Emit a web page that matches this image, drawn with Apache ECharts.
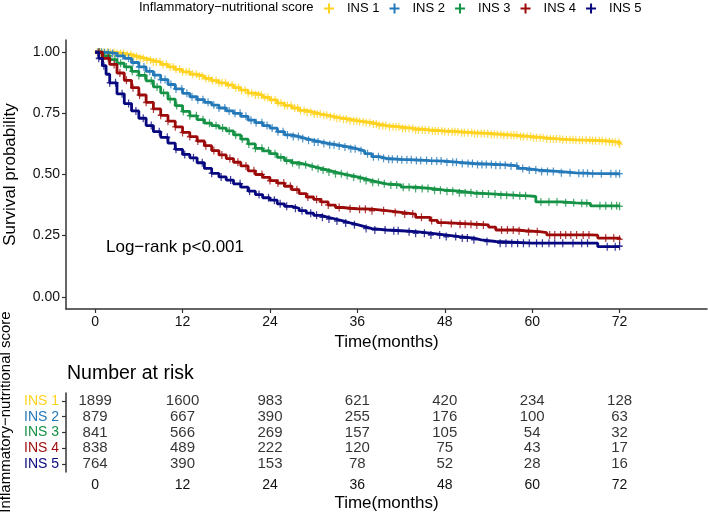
<!DOCTYPE html>
<html>
<head>
<meta charset="utf-8">
<script src="https://cdn.jsdelivr.net/npm/echarts@6/dist/echarts.min.js"></script>
<style>
html, body { margin: 0; padding: 0; background: #fff; }
#main { width: 708px; height: 517px; }
</style>
</head>
<body>
<div id="main"></div>
<script>
// groups + colours
var groups = ['INS 1', 'INS 2', 'INS 3', 'INS 4', 'INS 5'];
var colors = ['#FFD21F', '#2479B9', '#149245', '#9C0A0A', '#07077F'];

// KM step curves (months, survival)
var ins1T = [0, 2, 3, 4, 5, 6, 7, 8, 9, 10, 11, 12, 13, 14, 15, 16, 17, 18, 19, 20, 21, 22, 23, 24, 25, 26, 27, 28, 29, 30, 31, 32, 33, 34, 35, 36, 37, 38, 39, 40, 42, 44, 46, 48, 50, 52, 54, 56, 58, 60, 62, 64, 66, 68, 70, 71, 72];
var ins1S = [1, 0.999, 0.995, 0.99, 0.982, 0.975, 0.967, 0.96, 0.95, 0.94, 0.93, 0.92, 0.91, 0.902, 0.893, 0.884, 0.875, 0.866, 0.855, 0.845, 0.833, 0.825, 0.815, 0.805, 0.792, 0.782, 0.772, 0.762, 0.755, 0.747, 0.742, 0.736, 0.73, 0.726, 0.72, 0.716, 0.712, 0.706, 0.7, 0.695, 0.688, 0.682, 0.678, 0.675, 0.671, 0.668, 0.664, 0.66, 0.655, 0.65, 0.645, 0.642, 0.64, 0.638, 0.635, 0.632, 0.625];

var ins2T = [0, 1, 2, 3, 4, 5, 6, 7, 8, 9, 10, 11, 12, 13, 14, 15, 16, 17, 18, 19, 20, 21, 22, 23, 24, 25, 26, 27, 28, 29, 30, 31, 32, 33, 34, 35, 36, 37, 38, 39, 40, 42, 44, 46, 48, 50, 52, 55, 57, 58, 59, 61, 64, 66, 68, 72];
var ins2S = [1, 0.998, 0.995, 0.985, 0.975, 0.958, 0.94, 0.922, 0.906, 0.888, 0.868, 0.85, 0.832, 0.818, 0.806, 0.795, 0.784, 0.772, 0.76, 0.75, 0.738, 0.722, 0.712, 0.7, 0.69, 0.675, 0.662, 0.655, 0.647, 0.64, 0.633, 0.627, 0.622, 0.617, 0.612, 0.605, 0.597, 0.585, 0.573, 0.566, 0.562, 0.56, 0.557, 0.555, 0.55, 0.545, 0.541, 0.538, 0.535, 0.525, 0.518, 0.512, 0.507, 0.505, 0.503, 0.503];

var ins3T = [0, 1, 2, 3, 4, 5, 6, 7, 8, 9, 10, 11, 12, 13, 14, 15, 16, 17, 18, 19, 20, 21, 22, 23, 24, 25, 26, 27, 28, 29, 30, 31, 32, 33, 34, 35, 36, 37, 38, 39, 40, 42, 44, 46, 48, 50, 52, 55, 58, 59.5, 60.5, 64, 66, 68, 72];
var ins3S = [1, 0.985, 0.97, 0.955, 0.94, 0.922, 0.905, 0.883, 0.858, 0.834, 0.808, 0.782, 0.758, 0.74, 0.724, 0.71, 0.7, 0.69, 0.678, 0.662, 0.645, 0.625, 0.607, 0.597, 0.585, 0.57, 0.557, 0.548, 0.54, 0.532, 0.525, 0.518, 0.51, 0.503, 0.496, 0.49, 0.483, 0.475, 0.468, 0.462, 0.457, 0.448, 0.443, 0.436, 0.432, 0.425, 0.42, 0.415, 0.413, 0.41, 0.388, 0.384, 0.382, 0.372, 0.37];

var ins4T = [0, 1, 2, 3, 4, 5, 6, 7, 8, 9, 10, 11, 12, 13, 14, 15, 16, 17, 18, 19, 20, 21, 22, 23, 24, 25, 26, 27, 28, 29, 30, 31, 32, 33, 34, 35, 36, 38, 40, 42, 44, 46, 47, 48, 50, 52, 54, 55, 58, 59, 61, 62, 66, 68, 69, 72];
var ins4S = [1, 0.975, 0.95, 0.915, 0.885, 0.855, 0.825, 0.795, 0.768, 0.742, 0.718, 0.695, 0.672, 0.655, 0.637, 0.618, 0.598, 0.58, 0.565, 0.55, 0.535, 0.515, 0.5, 0.488, 0.475, 0.465, 0.452, 0.438, 0.422, 0.408, 0.398, 0.388, 0.375, 0.365, 0.362, 0.36, 0.358, 0.352, 0.345, 0.338, 0.325, 0.312, 0.303, 0.3, 0.297, 0.294, 0.285, 0.273, 0.27, 0.266, 0.262, 0.253, 0.253, 0.252, 0.24, 0.235];

var ins5T = [0, 0.5, 1, 1.5, 2, 3, 4, 5, 6, 7, 8, 9, 10, 11, 12, 13, 14, 15, 16, 17, 18, 19, 20, 21, 22, 23, 24, 25, 26, 27, 28, 29, 30, 31, 32, 33, 34, 35, 36, 37, 38, 40, 42, 44, 46, 48, 50, 52, 53, 55, 60, 64, 68.5, 69, 72];
var ins5S = [1, 0.975, 0.945, 0.91, 0.875, 0.83, 0.79, 0.76, 0.73, 0.7, 0.675, 0.652, 0.628, 0.603, 0.582, 0.568, 0.548, 0.525, 0.505, 0.49, 0.477, 0.462, 0.448, 0.432, 0.418, 0.405, 0.395, 0.38, 0.37, 0.362, 0.352, 0.342, 0.333, 0.325, 0.318, 0.31, 0.302, 0.295, 0.287, 0.279, 0.273, 0.27, 0.266, 0.26, 0.253, 0.246, 0.24, 0.233, 0.226, 0.219, 0.219, 0.219, 0.219, 0.205, 0.207];

// censoring times (the + marks)
var ins1Cens = [0.3, 0.8, 1.2, 1.7, 2.1, 2.6, 3, 3.5, 3.9, 4.4, 4.9, 5.3, 5.7, 6.2, 6.6, 7.1, 7.6, 8, 8.4, 8.9, 9.3, 9.8, 10.3, 10.7, 11.1, 11.6, 12, 12.5, 12.9, 13.4, 13.9, 14.3, 14.7, 15.2, 15.6, 16.1, 16.6, 17, 17.4, 17.9, 18.3, 18.8, 19.3, 19.7, 20.1, 20.6, 21, 21.5, 22, 22.4, 22.8, 23.3, 23.7, 24.2, 24.7, 25.1, 25.5, 26, 26.4, 26.9, 27.4, 27.8, 28.2, 28.7, 29.1, 29.6, 30.1, 30.5, 30.9, 31.4, 31.8, 32.3, 32.8, 33.2, 33.6, 34.1, 34.5, 35, 35.5, 35.9, 36.3, 36.8, 37.2, 37.7, 38.2, 38.6, 39, 39.5, 39.9, 40.4, 40.9, 41.3, 41.7, 42.2, 42.6, 43.1, 43.6, 44, 44.4, 44.9, 45.3, 45.8, 46.3, 46.7, 47.1, 47.6, 48, 48.5, 49, 49.4, 49.8, 50.3, 50.7, 51.2, 51.7, 52.1, 52.5, 53, 53.4, 53.9, 54.4, 54.8, 55.2, 55.7, 56.1, 56.6, 57.1, 57.5, 57.9, 58.4, 58.8, 59.3, 59.8, 60.2, 60.6, 61.1, 61.5, 62, 62.5, 62.9, 63.3, 63.8, 64.2, 64.7, 65.2, 65.6, 66, 66.5, 66.9, 67.4, 67.9, 68.3, 68.7, 69.2, 69.6, 70.1, 70.6, 71, 71.4, 71.9, 72];
var ins2Cens = [0.4, 0.9, 1.3, 1.8, 2.4, 3.1, 3.8, 4.6, 5.2, 6, 6.7, 7.5, 8.2, 9, 9.6, 10.4, 11.1, 11.9, 12.6, 13.3, 14.1, 14.8, 15.5, 16.3, 17, 17.8, 18.4, 19.2, 19.9, 20.7, 21.4, 22.1, 22.9, 23.6, 24.3, 25.1, 25.8, 26.4, 27.2, 27.9, 28.5, 29.3, 30.1, 30.6, 31.4, 32.2, 32.8, 33.5, 34.3, 35.1, 35.7, 36.5, 37.4, 38.2, 38.9, 39.6, 40.3, 40.8, 41.5, 42.1, 42.8, 43.4, 44.1, 44.7, 45.5, 46.2, 46.9, 47.5, 48.3, 49.1, 49.6, 50.4, 51.2, 51.8, 52.5, 53.1, 53.7, 54.4, 55, 55.6, 56.3, 57.1, 57.9, 58.7, 59.6, 60.5, 61.3, 62.1, 62.9, 64, 65.2, 66.4, 67, 67.6, 68.3, 69.5, 70.8, 71.5, 72];
var ins3Cens = [0.6, 1.2, 1.9, 2.7, 3.5, 4.3, 5.1, 6, 6.8, 7.7, 8.5, 9.4, 10.3, 11.2, 12.1, 13, 13.9, 14.8, 15.7, 16.6, 17.5, 18.4, 19.3, 20.2, 21.1, 22, 22.9, 23.8, 24.7, 25.5, 26.3, 27.1, 28, 28.9, 29.8, 30.6, 31.3, 32.1, 33, 33.8, 34.6, 35.5, 36.4, 37.2, 38.1, 38.9, 39.7, 40.6, 41.4, 42.3, 43.1, 44, 44.9, 45.7, 46.6, 47.4, 48.3, 49.1, 50, 50.8, 51.6, 52.4, 53.2, 54, 54.9, 55.7, 56.5, 57.4, 58.3, 59.1, 61.2, 62.3, 63.4, 64.6, 65.7, 66.8, 67.5, 69.3, 70.1, 70.9, 71.6, 72];
var ins4Cens = [0.5, 1.1, 1.8, 2.6, 3.4, 4.3, 5.2, 6.1, 7, 8, 9, 10, 11, 12, 13, 14.1, 15.2, 16.3, 17.4, 18.5, 19.6, 20.7, 21.8, 22.9, 24, 25.1, 25.9, 26.8, 27.7, 29.2, 30.4, 31.1, 32, 33.5, 35, 36.3, 37.1, 38, 39.6, 41.2, 42.5, 43.6, 44.8, 46.2, 47.5, 48.9, 50.1, 50.8, 51.6, 52.4, 53.3, 55.8, 56.6, 57.4, 58.2, 59.5, 60.7, 62.4, 63.1, 63.9, 64.6, 65.3, 66.1, 67, 67.8, 70.1, 71.2, 72];
var ins5Cens = [0.5, 1.2, 2, 2.8, 3.7, 4.6, 5.6, 6.6, 7.7, 8.8, 9.9, 11.1, 12.3, 13.5, 14.7, 16, 17.3, 18.6, 19.9, 21.2, 22.5, 23.8, 24.6, 25.4, 26.3, 27.5, 28.4, 29.6, 30.4, 31.2, 32.1, 33.2, 34.4, 35.6, 37.2, 38.4, 39.8, 41, 41.6, 43.1, 44, 45.2, 46.1, 47.3, 48.2, 49.5, 50.4, 51.1, 52, 53.8, 55.6, 56.4, 57.2, 58, 58.8, 59.6, 60.6, 61.4, 62.3, 63.1, 64.2, 65.6, 66.8, 67.6, 70.3, 71.4, 72];

// number at risk table
var riskTimes = [0, 12, 24, 36, 48, 60, 72];
var ins1Risk = [1899, 1600, 983, 621, 420, 234, 128];
var ins2Risk = [879, 667, 390, 255, 176, 100, 63];
var ins3Risk = [841, 566, 269, 157, 105, 54, 32];
var ins4Risk = [838, 489, 222, 120, 75, 43, 17];
var ins5Risk = [764, 390, 153, 78, 52, 28, 16];
var xTicks = [0, 12, 24, 36, 48, 60, 72];
var yTicks = [0, 0.25, 0.5, 0.75, 1];

var curveT = [ins1T, ins2T, ins3T, ins4T, ins5T];
var curveS = [ins1S, ins2S, ins3S, ins4S, ins5S];
var cens = [ins1Cens, ins2Cens, ins3Cens, ins4Cens, ins5Cens];
var risks = [ins1Risk, ins2Risk, ins3Risk, ins4Risk, ins5Risk];

var sans = '"Liberation Sans", Arial, sans-serif';
var plusIcon = 'path://M0,4L10,4L10,6L0,6Z M4,0L6,0L6,10L4,10Z';

// survival value at time t, from the step curve
function stepAt(T, S, t) {
	var v = S[0];
	for (var i = 0; i < T.length; i++) {
		if (T[i] <= t) v = S[i];
	}
	return v;
}

var series = [];
groups.forEach(function(g, k) {
	series.push({
		name: g,
		type: 'line',
		step: 'end',
		showSymbol: false,
		xAxisIndex: 0,
		yAxisIndex: 0,
		lineStyle: { color: colors[k], width: 2.8 },
		itemStyle: { color: colors[k] },
		data: curveT[k].map(function(t, i) { return [t, curveS[k][i]]; }),
		z: 2 + k
	});
});
groups.forEach(function(g, k) {
	series.push({
		name: g,
		type: 'scatter',
		symbol: plusIcon,
		symbolSize: [6, 8],
		xAxisIndex: 0,
		yAxisIndex: 0,
		itemStyle: { color: colors[k] },
		data: cens[k].map(function(t) { return [t, stepAt(curveT[k], curveS[k], t)]; }),
		z: 2 + k
	});
});
// risk table numbers
groups.forEach(function(g, k) {
	series.push({
		type: 'scatter',
		xAxisIndex: 1,
		yAxisIndex: 1,
		symbolSize: 0,
		silent: true,
		label: {
			show: true,
			position: 'inside',
			formatter: function(p) { return p.value[2]; },
			fontFamily: sans,
			fontSize: 15,
			color: '#000'
		},
		data: riskTimes.map(function(t, i) { return [t, g, risks[k][i]]; })
	});
});

var axisCol = '#333';
var myChart = echarts.init(document.getElementById('main'));
var option = {
	animation: false,
	backgroundColor: '#fff',
	title: [{
		text: 'Inflammatory\u2212nutritional score',
		left: 139, top: 1, padding: 0,
		textStyle: { fontFamily: sans, fontSize: 13, fontWeight: 'normal', color: '#000' }
	}],
	legend: {
		data: groups,
		left: 324, top: 2, padding: 0,
		icon: plusIcon,
		itemWidth: 16, itemHeight: 10,
		itemGap: 10,
		textStyle: { fontFamily: sans, fontSize: 13, color: '#000', padding: [0, 0, 0, 5] }
	},
	grid: [
		{ left: 66, right: 1, top: 40, bottom: 208, outerBoundsMode: 'none' },
		{ left: 66, right: 1, top: 393, bottom: 45, outerBoundsMode: 'none' }
	],
	xAxis: [{
		gridIndex: 0,
		type: 'value',
		min: -4, max: 84,
		splitLine: { show: false },
		axisLine: { onZero: false, lineStyle: { color: axisCol, width: 1.5 } },
		axisTick: { customValues: xTicks, length: 4, lineStyle: { color: axisCol, width: 1.2 } },
		axisLabel: { customValues: xTicks, fontFamily: sans, fontSize: 14, color: '#111', margin: 6 },
		name: 'Time(months)',
		nameLocation: 'middle',
		nameGap: 23,
		nameTextStyle: { fontFamily: sans, fontSize: 17, color: '#000' }
	}, {
		gridIndex: 1,
		type: 'value',
		min: -4, max: 84,
		splitLine: { show: false },
		axisLine: { onZero: false, lineStyle: { color: axisCol, width: 1.5 } },
		axisTick: { customValues: xTicks, length: 4, lineStyle: { color: axisCol, width: 1.2 } },
		axisLabel: { customValues: xTicks, fontFamily: sans, fontSize: 14, color: '#111', margin: 6 },
		name: 'Time(months)',
		nameLocation: 'middle',
		nameGap: 23,
		nameTextStyle: { fontFamily: sans, fontSize: 17, color: '#000' }
	}],
	yAxis: [{
		gridIndex: 0,
		type: 'value',
		min: -0.05, max: 1.05,
		splitLine: { show: false },
		axisLine: { show: true, onZero: false, lineStyle: { color: axisCol, width: 1.5 } },
		axisTick: { show: true, customValues: yTicks, length: 4, lineStyle: { color: axisCol, width: 1.2 } },
		axisLabel: {
			customValues: yTicks,
			fontFamily: sans, fontSize: 14, color: '#111', margin: 6,
			formatter: function(v) { return v.toFixed(2); }
		},
		name: 'Survival probability',
		nameLocation: 'middle',
		nameGap: 47,
		nameTextStyle: { fontFamily: sans, fontSize: 17, color: '#000' }
	}, {
		gridIndex: 1,
		type: 'category',
		data: groups,
		inverse: true,
		axisLine: { show: true, onZero: false, lineStyle: { color: axisCol, width: 1.5 } },
		axisTick: { show: true, alignWithLabel: true, interval: 0, length: 4, lineStyle: { color: axisCol, width: 1.2 } },
		axisLabel: {
			interval: 0,
			fontFamily: sans, fontSize: 14, margin: 7,
			color: function(v) { return colors[groups.indexOf(v)]; }
		}
	}],
	graphic: [{
		type: 'text', x: 106, y: 247,
		style: { text: 'Log\u2212rank p<0.001', font: '17px ' + sans, fill: '#000', verticalAlign: 'middle' }
	}, {
		type: 'text', x: 67, y: 374,
		style: { text: 'Number at risk', font: '19.5px ' + sans, fill: '#000', verticalAlign: 'middle' }
	}, {
		type: 'text', x: 6, y: 412, rotation: Math.PI / 2,
		style: { text: 'Inflammatory\u2212nutritional score', font: '15px ' + sans, fill: '#000', align: 'center', verticalAlign: 'middle' }
	}],
	series: series
};
myChart.setOption(option);
</script>
</body>
</html>
